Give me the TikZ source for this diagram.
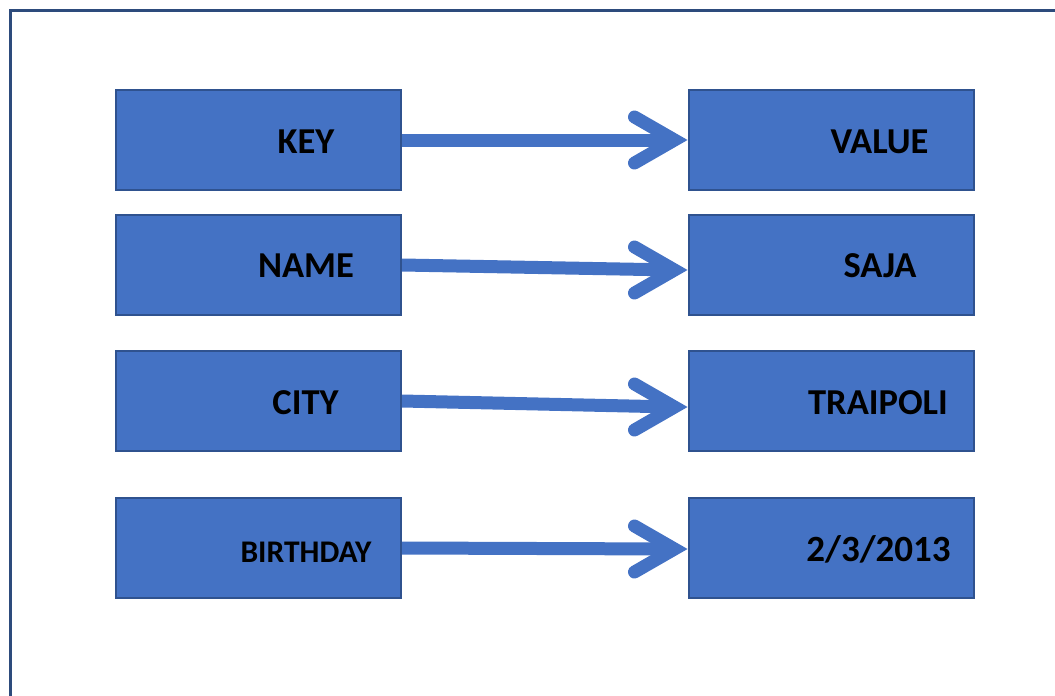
\documentclass[tikz,border=0pt]{standalone}
\usepackage{fontspec}
\setmainfont{Carlito}
\usetikzlibrary{calc,backgrounds}
\definecolor{boxfill}{HTML}{4472C4}
\definecolor{boxline}{HTML}{2F528F}
\definecolor{frameline}{HTML}{2D4B7C}
\begin{document}
\begin{tikzpicture}[x=1pt,y=-1pt,
  box/.style={draw=boxline,fill=boxfill,line width=2pt,minimum width=285pt,minimum height=100pt,inner sep=0pt},
  lbl/.style={font=\bfseries\fontsize{36.5}{40}\selectfont,anchor=base,inner sep=0pt},
  shaft/.style={draw=boxfill,line width=13pt},
  head/.style={draw=boxfill,line width=13pt,line cap=round,line join=miter}]
\useasboundingbox (0,0) rectangle (1055,696);
\draw[frameline,line width=2.5pt] (10.5,720) -- (10.5,10.5) -- (1080,10.5);

% boxes
\node[box] (k1) at (258.5,140) {};
\node[box] (v1) at (831,140) {};
\node[box] (k2) at (258.5,265) {};
\node[box] (v2) at (831,265) {};
\node[box] (k3) at (258.5,401) {};
\node[box] (v3) at (831,401) {};
\node[box] (k4) at (258.5,548) {};
\node[box] (v4) at (831,548) {};

% labels
\node[lbl] (tk1) at (306,153.5) {KEY};
\node[lbl] (tv1) at (879.5,153.5) {VALUE};
\node[lbl] (tk2) at (306,277) {NAME};
\node[lbl] (tv2) at (880,277) {SAJA};
\node[lbl] (tk3) at (305.5,414) {CITY};
\node[lbl] (tv3) at (878,414) {TRAIPOLI};
\node[lbl,font=\bfseries\fontsize{31.5}{36}\selectfont] (tk4) at (306,562) {BIRTHDAY};
\node[lbl,font=\bfseries\fontsize{37}{42}\selectfont] (tv4) at (878.5,561) {2/3/2013};

% connectors (behind the boxes)
\begin{scope}[on background layer]
\draw[shaft] (k1.east) -- ($(v1.west)+(-13,0)$);
\draw[head] ($(v1.west)+(-53,-23)$) -- ($(v1.west)+(-13,0)$) -- ($(v1.west)+(-53,23)$);
\draw[shaft] (k2.east) -- ($(v2.west)+(-13,5)$);
\draw[head] ($(v2.west)+(-53,-18)$) -- ($(v2.west)+(-13,5)$) -- ($(v2.west)+(-53,28)$);
\draw[shaft] (k3.east) -- ($(v3.west)+(-13,6)$);
\draw[head] ($(v3.west)+(-53,-17)$) -- ($(v3.west)+(-13,6)$) -- ($(v3.west)+(-53,29)$);
\draw[shaft] (k4.east) -- ($(v4.west)+(-13,1)$);
\draw[head] ($(v4.west)+(-53,-22)$) -- ($(v4.west)+(-13,1)$) -- ($(v4.west)+(-53,24)$);
\end{scope}
\end{tikzpicture}
\end{document}
